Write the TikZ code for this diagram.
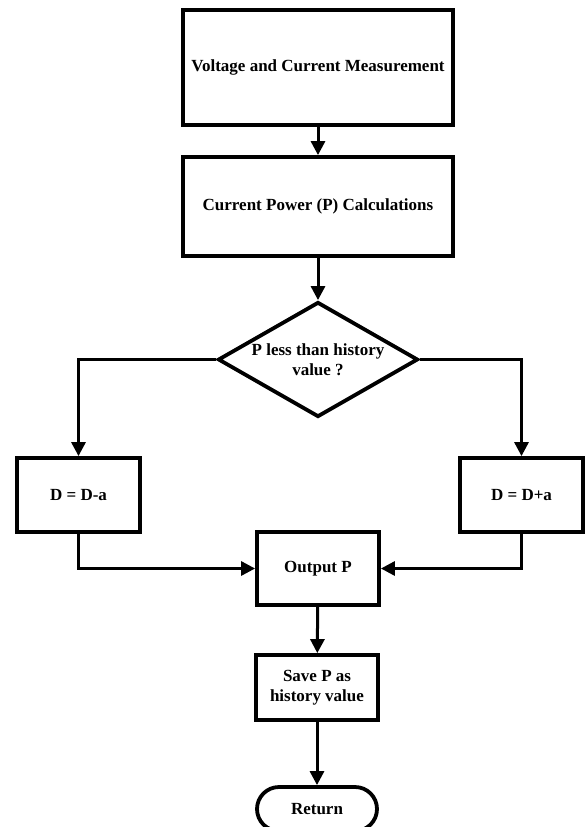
\documentclass[tikz,border=0pt]{standalone}
\usepackage{fontspec}
\setmainfont{Liberation Serif}
\usetikzlibrary{arrows.meta,shapes.geometric}
\tikzset{
  stepbox/.style={draw,line width=3.8pt,font=\bfseries\fontsize{17}{19.5}\selectfont,align=center,inner sep=2pt},
  decision/.style={stepbox,diamond,aspect=1.74,inner sep=0pt},
  terminal/.style={stepbox,rounded corners=22pt},
  flow/.style={line width=3pt,-{Triangle[length=14pt,width=14pt]}}
}
\begin{document}
\begin{tikzpicture}[x=1pt,y=-1pt]
\useasboundingbox (0,0) rectangle (585,827);
\clip (0,0) rectangle (585,827);
% process steps
\node[stepbox,minimum width=270pt,minimum height=115pt] (meas) at (318,67.5) {Voltage and Current Measurement};
\node[stepbox,minimum width=270pt,minimum height=99pt] (calc) at (318,206.5) {Current Power (P) Calculations};
\node[decision,minimum width=200pt,minimum height=115pt] (cmp) at (318,359.5) {P less than history\\value ?};
\node[stepbox,minimum width=123pt,minimum height=74pt] (dec) at (78.5,495) {D = D-a};
\node[stepbox,minimum width=123pt,minimum height=74pt] (inc) at (521.5,495) {D = D+a};
\node[stepbox,minimum width=122pt,minimum height=73pt] (out) at (318,568.5) {Output P};
\node[stepbox,minimum width=122pt,minimum height=65pt] (save) at (317,687.5) {Save P as\\history value};
\node[terminal,minimum width=120pt,minimum height=44pt] (ret) at (317,809) {Return};
% connectors
\draw[flow] (meas) -- (calc);
\draw[flow] (calc) -- (cmp);
\draw[flow] (cmp.west) -| (dec.north);
\draw[flow] (cmp.east) -| (inc.north);
\draw[flow] (dec.south) |- (out.west);
\draw[flow] (inc.south) |- (out.east);
\draw[flow] (out) -- (save);
\draw[flow] (save) -- (ret);
\end{tikzpicture}
\end{document}
